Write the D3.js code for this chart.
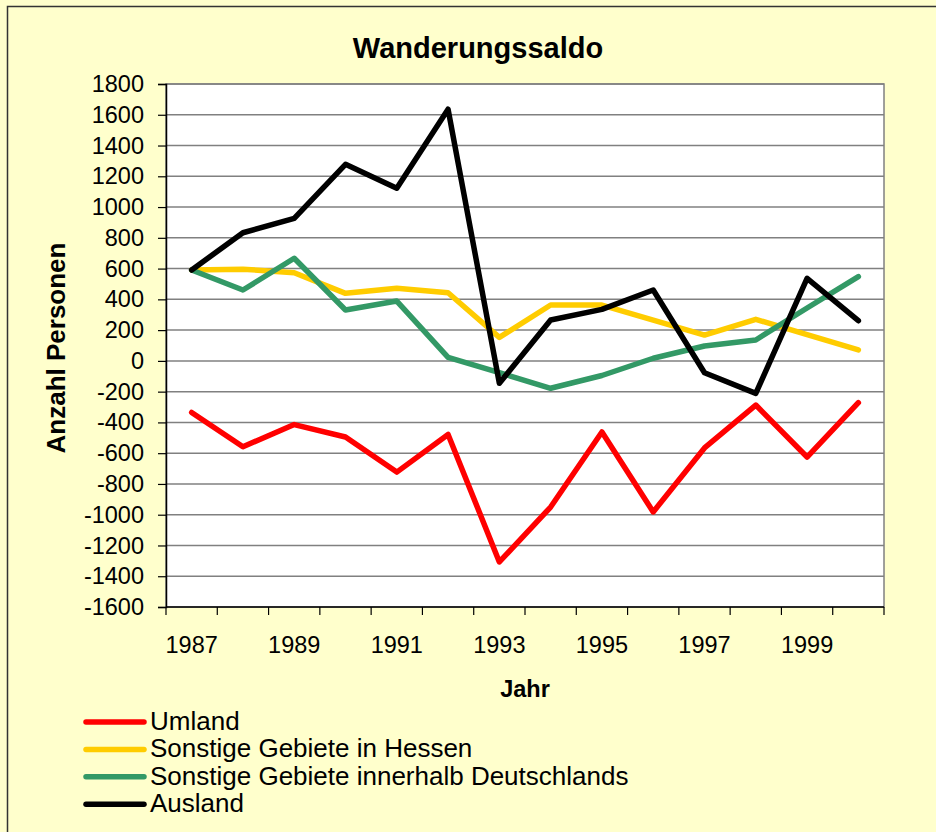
<!DOCTYPE html>
<html lang="de">
<head>
    <meta charset="utf-8">
    <style type="text/css">
        body { margin: 0; background: #ffffcc; }
        text { font-family: "Liberation Sans", Arial, sans-serif; fill: #000; }
        .grid line { stroke: #808080; stroke-width: 1.5px; }
        .series { fill: none; stroke-width: 5.5px; stroke-linejoin: round; stroke-linecap: round; }
    </style>
</head>
<body>
<svg width="936" height="832"></svg>

<script src="https://d3js.org/d3.v7.min.js" type="text/javascript"></script>
<script type="text/javascript">
    // values
    var years = [1987, 1988, 1989, 1990, 1991, 1992, 1993, 1994, 1995, 1996, 1997, 1998, 1999, 2000];
    var yTicks = [-1600, -1400, -1200, -1000, -800, -600, -400, -200, 0, 200, 400, 600, 800, 1000, 1200, 1400, 1600, 1800];

    var umland      = [-335, -558, -414, -495, -723, -478, -1307, -950, -462, -982, -566, -287, -625, -272];
    var hessen      = [591, 596, 573, 439, 472, 443, 153, 363, 363, 265, 168, 270, 170, 71];
    var deutschland = [591, 461, 667, 331, 389, 23, -77, -178, -95, 17, 97, 136, 344, 548];
    var ausland     = [591, 833, 927, 1278, 1122, 1636, -146, 266, 335, 461, -77, -211, 537, 261];

    var seriesNames  = ["Umland", "Sonstige Gebiete in Hessen", "Sonstige Gebiete innerhalb Deutschlands", "Ausland"];
    var seriesColors = ["#ff0000", "#ffcc00", "#339966", "#000000"];
    var seriesValues = [umland, hessen, deutschland, ausland];

    var svg = d3.select("svg");

    // outer frame (only top/left edges are inside the picture)
    svg.append("rect")
        .attr("x", 7.5).attr("y", 6.5)
        .attr("width", 1000).attr("height", 1000)
        .attr("fill", "#ffffcc")
        .attr("stroke", "#333")
        .attr("stroke-width", 1.5);

    var plot = { left: 166, top: 84, right: 884, bottom: 607 };

    var x = d3.scaleBand()
        .domain(years)
        .range([plot.left, plot.right])
        .padding(0);

    var y = d3.scaleLinear()
        .domain([-1600, 1800])
        .range([plot.bottom, plot.top]);

    // plot background
    svg.append("rect")
        .attr("x", plot.left).attr("y", plot.top)
        .attr("width", plot.right - plot.left)
        .attr("height", plot.bottom - plot.top)
        .attr("fill", "#fff")
        .attr("stroke", "#808080")
        .attr("stroke-width", 1.5);

    // horizontal gridlines
    svg.append("g")
        .attr("class", "grid")
        .selectAll("line")
        .data(yTicks.filter(function (d) { return d > -1600; }))
        .enter()
        .append("line")
        .attr("x1", plot.left).attr("x2", plot.right)
        .attr("y1", function (d) { return y(d); })
        .attr("y2", function (d) { return y(d); });

    // y axis
    var yAxis = svg.append("g")
        .attr("transform", "translate(" + plot.left + ",0)")
        .call(d3.axisLeft(y).tickValues(yTicks).tickSize(8).tickPadding(14)
            .tickFormat(function (d) { return String(d); }));
    yAxis.select(".domain").attr("stroke", "#000").attr("stroke-width", 1.5);
    yAxis.selectAll(".tick line").attr("stroke", "#000").attr("stroke-width", 1.2);
    yAxis.selectAll("text")
        .attr("font-size", 23.5)
        .style("font-family", "Liberation Sans, Arial, sans-serif");

    // x axis: ticks between categories, labels every second year
    var xAxisG = svg.append("g")
        .attr("transform", "translate(0," + plot.bottom + ")");
    xAxisG.append("line")
        .attr("x1", plot.left).attr("x2", plot.right)
        .attr("stroke", "#000").attr("stroke-width", 1.5);
    var bounds = years.map(function (d) { return x(d); }).concat([x(years[years.length - 1]) + x.bandwidth()]);
    xAxisG.selectAll(".xtick")
        .data(bounds)
        .enter()
        .append("line")
        .attr("class", "xtick")
        .attr("x1", function (d) { return d; })
        .attr("x2", function (d) { return d; })
        .attr("y1", 0).attr("y2", 8)
        .attr("stroke", "#000").attr("stroke-width", 1.2);
    xAxisG.selectAll(".xlabel")
        .data(years.filter(function (d, i) { return i % 2 === 0; }))
        .enter()
        .append("text")
        .attr("class", "xlabel")
        .attr("x", function (d) { return x(d) + x.bandwidth() / 2; })
        .attr("y", 46)
        .attr("text-anchor", "middle")
        .attr("font-size", 23.5)
        .text(function (d) { return d; });

    // series
    var line = d3.line()
        .x(function (d, i) { return x(years[i]) + x.bandwidth() / 2; })
        .y(function (d) { return y(d); });

    svg.selectAll(".series")
        .data(seriesValues)
        .enter()
        .append("path")
        .attr("class", "series")
        .attr("stroke", function (d, i) { return seriesColors[i]; })
        .attr("d", line);

    // titles
    svg.append("text")
        .attr("x", 478).attr("y", 58)
        .attr("text-anchor", "middle")
        .attr("font-size", 29)
        .attr("font-weight", "bold")
        .text("Wanderungssaldo");

    svg.append("text")
        .attr("x", (plot.left + plot.right) / 2).attr("y", 697)
        .attr("text-anchor", "middle")
        .attr("font-size", 23.5)
        .attr("font-weight", "bold")
        .text("Jahr");

    svg.append("text")
        .attr("transform", "translate(65,348) rotate(-90)")
        .attr("text-anchor", "middle")
        .attr("font-size", 26)
        .attr("font-weight", "bold")
        .text("Anzahl Personen");

    // legend
    var legend = svg.append("g").attr("transform", "translate(86,722)");
    var item = legend.selectAll("g")
        .data(seriesNames)
        .enter()
        .append("g")
        .attr("transform", function (d, i) { return "translate(0," + (i * 27.4) + ")"; });
    item.append("line")
        .attr("x1", 0).attr("x2", 58)
        .attr("stroke", function (d, i) { return seriesColors[i]; })
        .attr("stroke-width", 5.5)
        .attr("stroke-linecap", "round");
    item.append("text")
        .attr("x", 64).attr("y", 8)
        .attr("font-size", 26)
        .text(function (d) { return d; });
</script>

</body>
</html>
